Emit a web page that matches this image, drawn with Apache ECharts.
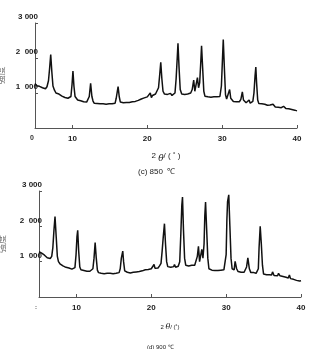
<!DOCTYPE html>
<html><head><meta charset="utf-8">
<script src="https://cdn.jsdelivr.net/npm/echarts@6/dist/echarts.min.js"></script>
<style>html,body{margin:0;padding:0;background:#fff}#c{width:323px;height:349px}</style>
</head><body><div id="c"></div>
<script>
// 2θ tick labels
var xTickValues = [10, 20, 30, 40];
var yTickLabels = {1000: '1  000', 2000: '2  000', 3000: '3 000'};
var captions = ['(c) 850  \u2103', '(d) 900 \u2103'];

// (c) 850 ℃
var theta850 = [5.0,5.2,5.4,5.6,5.8,6.0,6.2,6.4,6.6,6.8,6.95,7.1,7.25,7.4,7.6,7.8,8.0,8.2,8.4,8.6,8.8,9.0,9.2,9.4,9.6,9.8,9.95,10.07,10.2,10.35,10.5,10.7,10.9,11.1,11.3,11.5,11.7,11.9,12.1,12.25,12.43,12.6,12.75,12.9,13.1,13.3,13.5,13.7,13.9,14.1,14.3,14.5,14.7,14.9,15.1,15.3,15.5,15.7,15.85,16.1,16.25,16.4,16.6,16.8,17.0,17.2,17.4,17.6,17.8,18.0,18.2,18.4,18.6,18.8,19.0,19.2,19.4,19.6,19.8,20.0,20.2,20.4,20.55,20.7,20.9,21.1,21.3,21.5,21.65,21.8,21.95,22.1,22.3,22.5,22.7,22.9,23.1,23.3,23.5,23.7,23.85,24.0,24.1,24.25,24.4,24.6,24.8,25.0,25.2,25.4,25.6,25.8,26.0,26.2,26.35,26.5,26.7,26.85,27.0,27.15,27.25,27.4,27.55,27.7,27.9,28.1,28.3,28.5,28.7,28.9,29.1,29.3,29.5,29.7,29.9,30.05,30.15,30.3,30.45,30.6,30.8,31.0,31.15,31.3,31.5,31.7,31.9,32.1,32.3,32.5,32.7,32.85,33.0,33.2,33.4,33.6,33.75,33.9,34.1,34.25,34.4,34.5,34.6,34.75,34.9,35.1,35.3,35.5,35.7,35.9,36.05,36.2,36.4,36.6,36.8,36.95,37.1,37.3,37.5,37.7,37.9,38.1,38.2,38.35,38.5,38.7,38.9,39.1,39.3,39.5,39.7,39.9,40.0];
var int850 = [1270,1210,1260,1190,1210,1150,1170,1120,1180,1350,1700,2100,1600,1200,1080,1000,1010,970,960,910,920,870,900,850,880,900,1250,1630,1200,900,860,800,830,780,800,750,790,740,770,900,1275,900,770,710,740,700,730,690,730,690,720,680,720,690,720,690,730,710,850,1180,900,740,690,720,680,730,690,730,700,750,720,760,740,790,770,830,810,860,850,890,880,1000,870,930,890,970,990,1150,1500,1875,1400,1050,970,920,960,910,990,930,970,1000,1400,2000,2420,1700,1100,970,920,960,910,970,930,1000,1100,1370,1050,1100,1440,1150,1300,1900,2350,1700,1050,910,860,890,860,880,850,890,850,890,860,900,1200,2000,2530,1700,950,830,860,1100,850,800,760,780,750,780,750,820,1030,800,750,720,750,800,710,740,760,1000,1500,1740,1300,800,700,660,690,650,680,710,650,630,660,630,680,630,600,630,590,620,580,610,620,580,560,570,550,560,530,550,510,520,490,490];

// (d) 900 ℃
var theta900 = [5.0,5.15,5.3,5.5,5.7,5.9,6.1,6.3,6.5,6.7,6.85,7.0,7.14,7.3,7.45,7.6,7.8,8.0,8.2,8.4,8.6,8.8,9.0,9.2,9.4,9.6,9.8,9.95,10.07,10.17,10.3,10.45,10.6,10.8,11.0,11.2,11.4,11.6,11.8,12.0,12.2,12.35,12.5,12.65,12.8,12.95,13.1,13.3,13.5,13.7,13.9,14.1,14.3,14.5,14.7,14.9,15.1,15.3,15.5,15.7,15.85,16.0,16.19,16.3,16.45,16.6,16.8,17.0,17.2,17.4,17.6,17.8,18.0,18.2,18.4,18.6,18.8,19.0,19.2,19.4,19.6,19.8,20.0,20.2,20.37,20.5,20.7,20.9,21.1,21.3,21.45,21.6,21.76,21.9,22.05,22.2,22.4,22.6,22.8,23.0,23.1,23.25,23.4,23.6,23.8,23.95,24.08,24.17,24.3,24.45,24.6,24.8,25.0,25.2,25.4,25.6,25.8,26.0,26.15,26.3,26.45,26.6,26.75,26.9,27.05,27.15,27.25,27.4,27.55,27.7,27.9,28.1,28.3,28.5,28.7,28.9,29.1,29.3,29.5,29.7,29.85,30.0,30.1,30.19,30.35,30.5,30.65,30.8,31.07,31.2,31.4,31.6,31.8,32.0,32.2,32.4,32.55,32.73,32.9,33.1,33.3,33.5,33.7,33.85,34.0,34.15,34.3,34.4,34.55,34.7,34.85,35.0,35.2,35.4,35.6,35.8,36.07,36.2,36.4,36.6,36.87,37.0,37.2,37.4,37.6,37.8,38.0,38.15,38.3,38.45,38.6,38.8,39.0,39.2,39.4,39.6,39.8,40.0];
var int900 = [1280,1320,1250,1270,1190,1200,1110,1100,1090,1150,1400,1900,2280,1700,1150,1000,940,950,880,900,840,850,820,830,790,810,830,1200,1700,1885,1300,850,770,790,750,780,730,770,730,760,800,1100,1540,1100,760,690,700,670,700,660,700,670,710,670,700,660,700,670,710,690,800,1100,1300,1000,740,690,700,700,680,730,700,740,710,750,720,770,740,780,770,790,780,810,800,840,920,810,850,820,880,950,1300,1700,2075,1500,1000,860,850,840,850,860,920,840,870,870,1000,1800,2600,2830,1900,1100,900,870,880,870,900,860,900,950,1150,1437,1000,1050,1350,1100,1500,2300,2685,1900,1100,800,750,760,740,750,720,750,720,760,730,770,800,1200,2200,2700,2890,2000,1100,800,770,1010,800,720,730,700,730,700,740,850,1107,800,690,700,690,730,670,710,800,1400,2000,1500,900,650,620,630,600,630,620,710,610,610,600,670,600,570,580,550,560,550,540,620,520,530,500,510,470,500,450,460,430];

function pairs(xs, ys) { return xs.map(function (x, i) { return [x, ys[i]]; }); }

var axisColor = '#555';
var font = 'Liberation Sans, Arial, sans-serif';

function makeX(idx, small) {
  return {
    type: 'value', gridIndex: idx, min: 5, max: 40,
    axisLine: {show: true, lineStyle: {color: axisColor, width: 1}},
    axisTick: {show: true, inside: true, length: 3, customValues: xTickValues, lineStyle: {color: axisColor}},
    axisLabel: {
      customValues: [5].concat(xTickValues), margin: 7,
      fontFamily: font, fontSize: 8, fontWeight: 'bold', color: '#222',
      formatter: function (v) { return v === 5 ? '{z|' + (small ? ':' : '0') + '}' : String(v); },
      rich: {z: {fontSize: small ? 6 : 7, fontFamily: font, color: '#333', padding: [0, 6, small ? 0 : 6, 0]}}
    },
    splitLine: {show: false},
    name: small ? '{a|2 }{t|\u03b8}{a|/ (\u02da)}' : '{a|2 }{t|\u03b8}{a|/ ( \u02da )}',
    nameLocation: 'middle', nameGap: small ? 26 : 20,
    nameTextStyle: {
      rich: {
        a: {fontFamily: font, fontSize: small ? 6 : 8, color: '#222'},
        t: {fontFamily: 'DejaVu Serif, serif', fontStyle: 'italic', fontSize: small ? 8 : 9, color: '#222', padding: [small ? 0 : 6, 0, 0, 0]}
      }
    }
  };
}
function makeY(idx, gap) {
  return {
    type: 'value', gridIndex: idx, min: 0, max: 3000, interval: 1000,
    axisLine: {show: true, lineStyle: {color: axisColor, width: 1}},
    axisTick: {show: true, inside: true, length: 3, lineStyle: {color: axisColor}},
    axisLabel: {
      margin: -3, fontFamily: font, fontSize: 8, fontWeight: 'bold', color: '#222',
      verticalAlign: 'bottom', padding: [0, 0, 2, 0],
      formatter: function (v) { return yTickLabels[v] || ''; }
    },
    splitLine: {show: false},
    name: '强度', nameLocation: 'middle', nameGap: gap,
    nameTextStyle: {fontFamily: 'Noto Sans CJK SC, sans-serif', fontSize: 9, color: '#777'}
  };
}

var chart = echarts.init(document.getElementById('c'), null, {renderer: 'canvas'});
chart.setOption({
  backgroundColor: '#fff',
  animation: false,
  title: [
    {text: captions[0], left: 133, top: 163, textStyle: {fontFamily: font, fontSize: 8, fontWeight: 'normal', color: '#222'}},
    {text: captions[1], left: 142, top: 339, textStyle: {fontFamily: font, fontSize: 6, fontWeight: 'normal', color: '#222'}}
  ],
  grid: [
    {left: 35, top: 23, width: 262, height: 105, outerBoundsMode: 'none', containLabel: false},
    {left: 39, top: 191, width: 262, height: 106, outerBoundsMode: 'none', containLabel: false}
  ],
  xAxis: [makeX(0, false), makeX(1, true)],
  yAxis: [makeY(0, 29), makeY(1, 33)],
  series: [
    {type: 'line', xAxisIndex: 0, yAxisIndex: 0, data: pairs(theta850, int850), showSymbol: false,
     lineStyle: {color: '#111', width: 1.5}},
    {type: 'line', xAxisIndex: 1, yAxisIndex: 1, data: pairs(theta900, int900), showSymbol: false,
     lineStyle: {color: '#111', width: 1.5}}
  ]
});
</script></body></html>
